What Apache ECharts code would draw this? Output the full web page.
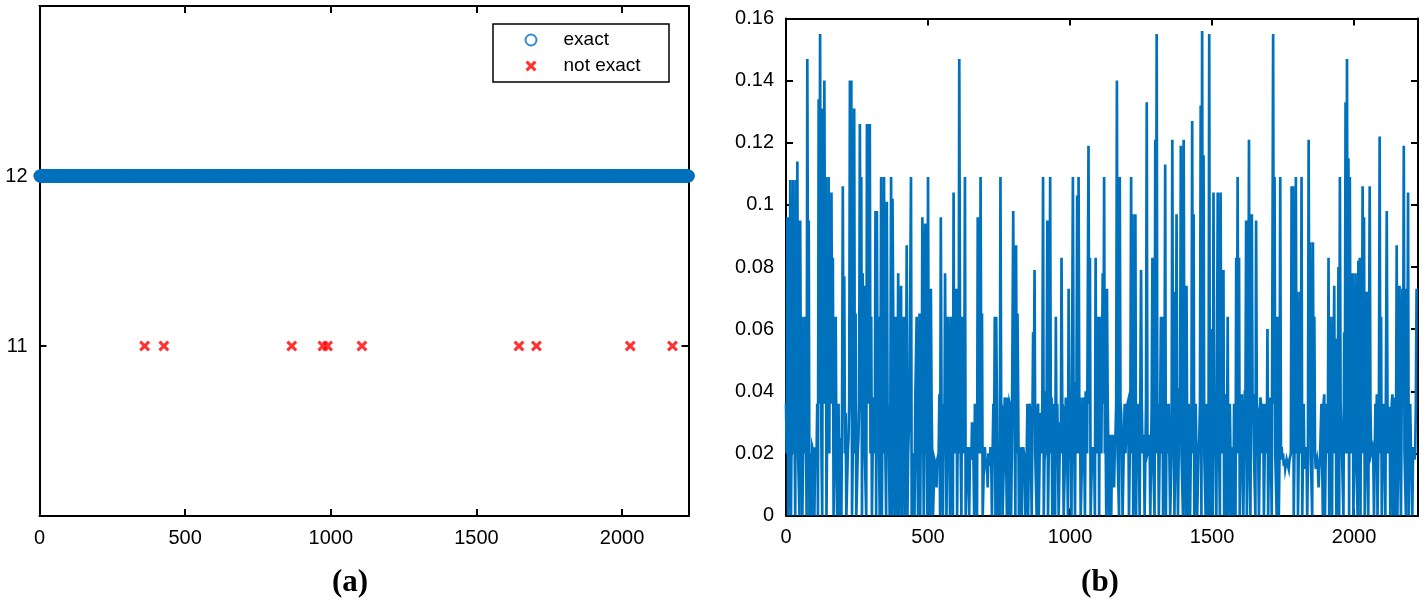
<!DOCTYPE html>
<html>
<head>
<meta charset="utf-8">
<script src="https://cdn.jsdelivr.net/npm/echarts@6.0.0/dist/echarts.min.js"></script>
<style>
  html, body { margin: 0; padding: 0; background: #fff; }
  #chart { width: 1425px; height: 604px; }
</style>
</head>
<body>
<div id="chart"></div>
<script>
// panel (a): number of cases, the ones that were not exact
const totalCases = 2228;
const notExactIdx = [361, 427, 866, 973, 989, 1107, 1646, 1706, 2028, 2173];
const exactLevel = 12;
const notExactLevel = 11;

// panel (b): error values, one every sampleStep cases
const sampleStep = 5;
const errValues = [
  0.036,0.096,0.02,0.108,0,0.108,0.03,0.108,0.114,0.02,
  0.095,0.064,0,0.064,0.038,0.147,0.095,0.02,0,0.022,
  0,0.022,0.036,0.134,0.155,0.02,0.131,0.14,0.109,0.03,
  0.109,0.101,0.104,0.083,0.02,0.064,0,0.036,0.025,0,
  0.106,0.077,0.033,0,0.025,0.14,0.14,0.02,0.131,0.065,
  0,0.025,0.126,0.109,0.078,0.074,0.02,0.126,0.126,0.126,
  0.064,0.02,0.038,0.098,0.098,0.064,0,0.109,0.036,0.109,
  0.02,0.101,0.036,0,0.109,0.102,0.02,0.064,0,0.078,
  0.02,0.074,0.036,0.064,0,
  0.087,0.02,0.036,0.109,0,0.02,0.036,0.064,0,0.065,
  0.04,0.096,0,0.094,0.03,0.109,0.02,0.073,0.018,0,
  0.018,0.009,0.018,0.039,0.096,0.02,0.036,0.078,0,0.064,
  0.02,0.064,0.036,0.104,0.02,0.073,0.036,0.147,0.02,0.064,
  0.02,0.109,0,0.022,0,0.022,0.03,0.018,0.036,0.02,
  0.096,0.065,0.109,0.065,0,0.022,0.016,0.009,0.018,0.022,
  0,0.036,0.064,0.064,0,0.02,0.109,0.035,0,0.038,
  0.02,0.038,0,0.035,0.02,0.098,0.03,0.087,0.065,0,
  0.022,0,0.022,0.018,0,0.036,0.02,
  0.033,0,0.059,0.079,0.02,0.033,0,0.033,0.02,0.109,
  0.018,0.04,0.095,0.02,0.109,0.038,0,0.02,0.064,0.036,
  0,0.03,0.083,0.035,0,0.038,0.02,0.073,0.038,0,
  0.109,0.02,0.043,0.103,0.109,0.038,0,0.038,0.02,0.04,
  0.02,0.119,0.083,0,0.022,0.02,0.083,0.02,0.064,0.064,
  0.02,0.078,0.109,0.03,0.073,0.02,0.026,0,0.026,0.009,
  0.026,0.14,0.02,0.109,0.033,0,0.027,0.02,0.02,0.037,
  0,0.109,0.097,0.02,0.097,0.03,0.027,0,0.079,0.02,
  0.026,0,0.133,0.02,0.026,0,0.083,0.02,
  0.121,0.155,0.036,0,0.064,0.064,0.02,0.113,0.036,0.02,
  0.036,0,0.121,0.072,0.02,0.097,0,0.041,0.119,0.02,
  0.121,0.036,0.074,0,0.036,0.02,0.127,0.097,0.02,0.036,
  0,0.025,0.132,0.156,0.116,0.02,0.036,0,0.155,0.06,
  0.02,0.104,0.039,0,0.104,0.02,0.104,0.036,0.079,0.039,
  0,0.064,0.02,0.036,0.022,0,0.02,0.083,0.109,0.083,
  0.02,0.039,0,0.037,0.095,0.02,0.121,0,0.097,0.039,
  0.02,0.095,0.034,0,0.038,0.02,0.036,0,0.034,0.06,
  0.02,0.038,0,0.155,0.109,0.02,0.064,0,
  0.109,0.022,0.02,0.018,0.015,0.018,0.015,0.018,0.106,0.106,
  0.02,0.109,0.072,0.02,0.072,0.109,0.02,0.015,0.022,0,
  0.121,0.088,0.02,0.088,0.064,0.015,0.018,0.009,0.018,0.036,
  0,0.039,0.02,0.036,0.083,0.064,0.02,0.064,0.074,0.057,
  0,0.08,0.109,0.036,0.02,0.059,0.133,0.147,0.115,0.109,
  0.02,0.078,0,0.078,0.02,0.082,0.083,0.073,0.106,0.096,
  0.02,0.072,0,0.106,0.02,0.022,0,0.036,0.039,0.02,
  0.122,0.064,0.02,0.036,0,0.098,0.02,0.035,0,0.039,
  0.038,0,0.087,0.02,0.074,0,0.073,0.119,0.02,0.073,
  0.104,0.02,0.022,0,0.022,0.02,0.073
];
// values in between the samples above (half a step later): the low dense band
const errValuesMid = [
  0.02,0,0.036,0,0.064,0.02,0,0.036,0.02,0,
  0.036,0,0.036,0.02,0,0.064,0,0.02,0.022,0.02,
  0.022,0.018,0,0.036,0.064,0,0.036,0.064,0,0.036,
  0.02,0.064,0.036,0,0.036,0.02,0.022,0,0.02,0.036,
  0.036,0.02,0,0.02,0.036,0.064,0,0.036,0.02,0,
  0.02,0.036,0.064,0,0.036,0.02,0,0.064,0.036,0.02,
  0,0.036,0.02,0,0.036,0.02,0.036,0,0.02,0.036,
  0,0.036,0.02,0.036,0,0.064,0,0.02,0.036,0,
  0.036,0,0.02,0,0.036,0,0.02,0.036,0,0.02,
  0,0.036,0.02,0.036,0,0.02,0.036,0,0.02,0,
  0.036,0,0.036,0,0.018,0.016,0.018,0.02,0,0.036,
  0,0.02,0.036,0,0.036,0,0.036,0,0.02,0.036,
  0,0.02,0.064,0,0.02,0.036,0,0.02,0.018,0.02,
  0.018,0.022,0,0.02,0,0.036,0.02,0.036,0,0.02,
  0.018,0.018,0.02,0.016,0.018,0.02,0.02,0,0.036,0.02,
  0,0.036,0,0.02,0.036,0,0.02,0.036,0,0.02,
  0.036,0,0.02,0.036,0,0.02,0.018,0.02,0,0.02,
  0,0.036,0.02,0,0.036,0.02,0,0.036,0,0.02,
  0.036,0,0.02,0.036,0,0.036,0.02,0,0.036,0,
  0.02,0.036,0,0.02,0.036,0,0.02,0.036,0,0.036,
  0.02,0,0.036,0,0.036,0.02,0.036,0,0.02,0.036,
  0,0.036,0.02,0.036,0,0.02,0.018,0,0.02,0.036,
  0,0.036,0.02,0.036,0.02,0,0.036,0,0.022,0.02,
  0.02,0.022,0.036,0.02,0,0.036,0.02,0,0.036,0.02,
  0.036,0,0.036,0.02,0,0.036,0,0.036,0.02,0,
  0.036,0.02,0,0.036,0.02,0.022,0,0.036,0.02,0,
  0.036,0.02,0,0.036,0.02,0,0.036,0,0.02,0.036,
  0,0.02,0.036,0,0.036,0.02,0,0.036,0.02,0,
  0.036,0,0.02,0.036,0,0.036,0.02,0,0.036,0,
  0.02,0.036,0,0.036,0.02,0,0.036,0.02,0,0.036,
  0,0.036,0.02,0,0.036,0,0.036,0.02,0,0.036,
  0.02,0,0.036,0,0.02,0.036,0,0.036,0.02,0,
  0.036,0.02,0,0.036,0,0.036,0.02,0,0.036,0.02,
  0,0.036,0.02,0,0.036,0.02,0,0.036,0.02,0,
  0.036,0.02,0,0.036,0.02,0,0.036,0.02,0.018,0.018,
  0.016,0.015,0.018,0.016,0.018,0.02,0.036,0,0.036,0.02,
  0,0.036,0.02,0,0.036,0.018,0.02,0.018,0.036,0.02,
  0,0.036,0.02,0.015,0.016,0.015,0.018,0.02,0.036,0,
  0.036,0.02,0,0.036,0,0.036,0.02,0,0.036,0,
  0.036,0.02,0,0.036,0.02,0.036,0,0.036,0.02,0,
  0.036,0.02,0,0.036,0,0.036,0.02,0,0.036,0.02,
  0,0.036,0.02,0.02,0.018,0.02,0,0.036,0.02,0,
  0.036,0.02,0,0.036,0.02,0,0.036,0,0.036,0.02,
  0,0.036,0.02,0,0.036,0.02,0,0.036,0,0.036,
  0.02,0.02,0.018,0.036
];

const xTicksStep = 500;
const errTicks = [0, 0.02, 0.04, 0.06, 0.08, 0.1, 0.12, 0.14, 0.16];

const BLUE = '#0072BD';
const RED = '#FF0000';
const FONT = '"Liberation Sans", Arial, Helvetica, sans-serif';
const crossPath = 'path://M2,0L5,3L8,0L10,2L7,5L10,8L8,10L5,7L2,10L0,8L3,5L0,2Z';

const exactData = [];
for (let i = 1; i <= totalCases; i++) {
  if (!notExactIdx.includes(i)) exactData.push([i, exactLevel]);
}
const notExactData = notExactIdx.map(i => [i, notExactLevel]);
const errData = [];
errValues.forEach((v, i) => {
  errData.push([i * sampleStep, v]);
  if (i < errValuesMid.length) errData.push([i * sampleStep + sampleStep / 2, errValuesMid[i]]);
});

const chart = echarts.init(document.getElementById('chart'), null, { renderer: 'canvas' });

const axisLine = { show: true, onZero: false, lineStyle: { color: '#000', width: 2 } };
const tick = { show: true, inside: true, length: 7, lineStyle: { color: '#000', width: 2 } };
const label = { color: '#000', fontSize: 20, fontFamily: FONT, margin: 12 };

function xAx(grid, max, pos, showLabel) {
  return {
    type: 'value', gridIndex: grid, position: pos, min: 0, max: max, interval: xTicksStep,
    axisLine: axisLine, axisTick: tick, splitLine: { show: false },
    axisLabel: Object.assign({ show: showLabel, showMaxLabel: false, formatter: v => String(v) }, label)
  };
}

chart.setOption({
  animation: false,
  backgroundColor: '#fff',
  grid: [
    { left: 39.5, top: 6, width: 649, height: 510 },
    { left: 786, top: 18.5, width: 632, height: 497 }
  ],
  xAxis: [
    xAx(0, totalCases, 'bottom', true),
    xAx(0, totalCases, 'top', false),
    xAx(1, 2225, 'bottom', true),
    xAx(1, 2225, 'top', false)
  ],
  yAxis: [
    {
      type: 'value', gridIndex: 0, position: 'left', min: 10, max: 13, interval: 1,
      axisLine: axisLine, axisTick: tick, splitLine: { show: false },
      axisLabel: Object.assign({
        formatter: v => (v === exactLevel || v === notExactLevel) ? String(v) : ''
      }, label)
    },
    {
      type: 'value', gridIndex: 0, position: 'right', min: 10, max: 13, interval: 1,
      axisLine: axisLine, axisTick: tick, splitLine: { show: false },
      axisLabel: { show: false }
    },
    {
      type: 'value', gridIndex: 1, position: 'left', min: errTicks[0],
      max: errTicks[errTicks.length - 1], interval: 0.02,
      axisLine: axisLine, axisTick: tick, splitLine: { show: false },
      axisLabel: Object.assign({ formatter: v => String(parseFloat(v.toFixed(2))) }, label)
    },
    {
      type: 'value', gridIndex: 1, position: 'right', min: errTicks[0],
      max: errTicks[errTicks.length - 1], interval: 0.02,
      axisLine: axisLine, axisTick: tick, splitLine: { show: false },
      axisLabel: { show: false }
    }
  ],
  legend: {
    left: 524.5, top: 30.5, padding: 0, orient: 'vertical', itemGap: 7,
    itemWidth: 11, itemHeight: 11,
    textStyle: { color: '#000', fontSize: 19, fontFamily: FONT, padding: [0, 0, 0, 22] },
    data: [
      { name: 'exact', icon: 'circle' },
      { name: 'not exact', icon: crossPath }
    ]
  },
  graphic: [
    {
      type: 'rect', shape: { x: 493, y: 24, width: 176, height: 58 },
      style: { fill: 'none', stroke: '#000', lineWidth: 1.5 }, z: 10
    },
    {
      type: 'text', x: 350, y: 583,
      style: { text: '(a)', font: 'bold 31px "Liberation Serif", "Times New Roman", serif',
               fill: '#000', textAlign: 'center', textVerticalAlign: 'middle' }
    },
    {
      type: 'text', x: 1100, y: 583,
      style: { text: '(b)', font: 'bold 31px "Liberation Serif", "Times New Roman", serif',
               fill: '#000', textAlign: 'center', textVerticalAlign: 'middle' }
    }
  ],
  series: [
    {
      name: 'exact', type: 'scatter', xAxisIndex: 0, yAxisIndex: 0,
      symbol: 'circle', symbolSize: 11, data: exactData, large: false,
      itemStyle: { color: 'rgba(0,0,0,0)', borderColor: BLUE, borderWidth: 1.8 }
    },
    {
      name: 'not exact', type: 'scatter', xAxisIndex: 0, yAxisIndex: 0,
      symbol: crossPath, symbolSize: 11, data: notExactData,
      itemStyle: { color: RED }
    },
    {
      name: 'error', type: 'line', xAxisIndex: 2, yAxisIndex: 2,
      data: errData, showSymbol: false, symbol: 'none', sampling: false,
      lineStyle: { color: BLUE, width: 2.7, join: 'miter', cap: 'butt' }
    }
  ]
});
</script>
</body>
</html>
